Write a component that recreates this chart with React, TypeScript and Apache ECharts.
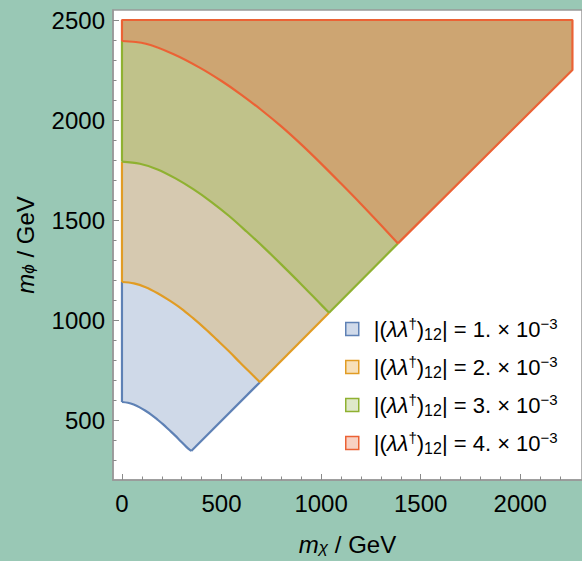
import React, { useEffect, useRef } from "react";
import * as echarts from "echarts";

// Tick values
const xMajorTicks = [0, 500, 1000, 1500, 2000];
const xMinorTicks = [100, 200, 300, 400, 600, 700, 800, 900, 1100, 1200, 1300, 1400, 1600, 1700, 1800, 1900, 2100, 2200];
const yMajorTicks = [500, 1000, 1500, 2000, 2500];
const yMinorTicks = [300, 400, 600, 700, 800, 900, 1100, 1200, 1300, 1400, 1600, 1700, 1800, 1900, 2100, 2200, 2300, 2400];

// Boundary curves [m_chi, m_phi] (GeV)
const curve1 = [[0, 590], [30, 586], [59, 577], [89, 563], [118, 546], [148, 526], [177, 503], [207, 478], [236, 451], [266, 423], [295, 394], [322, 367], [348, 345]];
const curve2 = [[0, 1190], [60, 1183], [119, 1164], [179, 1134], [238, 1098], [298, 1057], [357, 1009], [417, 957], [476, 902], [536, 845], [595, 785], [655, 726], [693, 689]];
const curve3 = [[0, 1792], [90, 1781], [179, 1753], [269, 1708], [358, 1654], [448, 1591], [538, 1520], [627, 1441], [717, 1358], [806, 1272], [896, 1183], [986, 1091], [1040, 1036]];
const curve4 = [[0, 2395], [120, 2381], [257, 2330], [390, 2262], [500, 2195], [600, 2126], [700, 2050], [800, 1968], [900, 1878], [1000, 1782], [1100, 1682], [1200, 1580], [1300, 1475], [1386, 1383]];
const topRight = [[0, 2500], [2262, 2500], [2262, 2250]];

const seriesNames = ["1", "2", "3", "4"];

const fillColors = ["#cfd9e8", "#d6c9b0", "#c0c28a", "#cda572"];
const lineColors = ["#5e81b5", "#e19c24", "#8fb131", "#eb6235"];
const swatchColors = ["#d0daea", "#f7e0ba", "#dfe8c9", "#f8d1c3"];

const rev = (a: number[][]) => a.slice().reverse();
const last = (a: number[][]) => a[a.length - 1];

const curves = [curve1, curve2, curve3, curve4];

const regions = [
  [...curve2, ...rev(curve1)],
  [...curve3, ...rev(curve2)],
  [...curve4, ...rev(curve3)],
  [...topRight, ...rev(curve4)],
];

// straight boundary pieces (left edge + diagonal), in each region's colour
const straights = [
  [[[0, 1190], curve1[0]], [last(curve1), last(curve2)]],
  [[[0, 1792], curve2[0]], [last(curve2), last(curve3)]],
  [[[0, 2395], curve3[0]], [last(curve3), last(curve4)]],
  [[last(curve4), topRight[2], topRight[1], topRight[0], curve4[0]]],
];

const FONT = "'Liberation Sans', Arial, Helvetica, sans-serif";

export default function App() {
  const ref = useRef<HTMLDivElement>(null);
  useEffect(() => {
    document.body.style.margin = "0";
    const chart = echarts.init(ref.current!, null, { renderer: "svg" });
    const lineSt = { show: true, onZero: false, lineStyle: { color: "#999999", width: 1.5 } };
    const xCommon = {
      type: "value",
      min: -45,
      max: 2310,
      splitLine: { show: false },
    };
    const yCommon = {
      type: "value",
      min: 200,
      max: 2550,
      splitLine: { show: false },
    };
    const tickStyle = { color: "#8a8a8a", width: 1 };
    const nameStyle = {
      fontFamily: FONT,
      fontSize: 24,
      color: "#000",
      lineHeight: 24,
      rich: {
        it: { fontFamily: FONT, fontSize: 24, fontStyle: "italic", color: "#000", lineHeight: 24 },
        sub: { fontFamily: FONT, fontSize: 17, fontStyle: "italic", color: "#000", lineHeight: 14, verticalAlign: "bottom" },
      },
    };
    const fmt = (v: number) => String(v);
    const lineSeries: any[] = [];
    curves.forEach((c, i) => {
      straights[i].forEach((seg, j) => {
        lineSeries.push({
          type: "line",
          name: `s${i}_${j}`,
          xAxisIndex: 0,
          yAxisIndex: 0,
          data: seg,
          showSymbol: false,
          symbol: "none",
          lineStyle: { color: lineColors[i], width: 2.2 },
          z: 3 + i,
          silent: true,
        });
      });
      lineSeries.push({
        type: "line",
        name: `c${i}`,
        xAxisIndex: 0,
        yAxisIndex: 0,
        data: c,
        smooth: 0.35,
        showSymbol: false,
        symbol: "none",
        lineStyle: { color: lineColors[i], width: 2.2 },
        z: 3 + i,
        silent: true,
      });
    });
    const option: any = {
      animation: false,
      backgroundColor: "#99c8b5",
      grid: {
        left: 113,
        top: 10,
        right: -2,
        bottom: 81,
        show: true,
        backgroundColor: "#ffffff",
        borderColor: "#999999",
        borderWidth: 1.5,
      },
      xAxis: [
        {
          ...xCommon,
          position: "bottom",
          axisLine: lineSt,
          name: "{it|m}{sub|χ} / GeV",
          nameLocation: "middle",
          nameGap: 52,
          nameTextStyle: nameStyle,
          axisTick: { show: true, inside: true, length: 6, customValues: xMajorTicks, lineStyle: tickStyle },
          axisLabel: { show: true, customValues: xMajorTicks, formatter: fmt, margin: 11, fontFamily: FONT, fontSize: 24, color: "#000" },
        },
        {
          ...xCommon,
          position: "bottom",
          axisLine: { show: false, onZero: false },
          axisTick: { show: true, inside: true, length: 3.5, customValues: xMinorTicks, lineStyle: tickStyle },
          axisLabel: { show: false },
        },
      ],
      yAxis: [
        {
          ...yCommon,
          position: "left",
          axisLine: lineSt,
          name: "{it|m}{sub|ϕ} / GeV",
          nameLocation: "middle",
          nameGap: 76,
          nameTextStyle: nameStyle,
          axisTick: { show: true, inside: true, length: 6, customValues: yMajorTicks, lineStyle: tickStyle },
          axisLabel: { show: true, customValues: yMajorTicks, formatter: fmt, margin: 8, fontFamily: FONT, fontSize: 24, color: "#000" },
        },
        {
          ...yCommon,
          position: "left",
          axisLine: { show: false, onZero: false },
          axisTick: { show: true, inside: true, length: 3.5, customValues: yMinorTicks, lineStyle: tickStyle },
          axisLabel: { show: false },
        },
      ],
      legend: {
        orient: "vertical",
        left: 340,
        top: 311,
        itemWidth: 13,
        itemHeight: 13,
        itemGap: 12,
        icon: "rect",
        selectedMode: false,
        data: seriesNames.map((n, i) => ({
          name: n,
          itemStyle: { color: swatchColors[i], borderColor: lineColors[i], borderWidth: 1.5 },
        })),
        formatter: (name: string) =>
          `|({it|λλ}{sup|†}){sub|12}| = ${name}. × 10{sup|−3}`,
        textStyle: {
          fontFamily: FONT,
          fontSize: 22,
          color: "#000",
          lineHeight: 26,
          padding: [0, 0, 0, 10],
          rich: {
            it: { fontFamily: FONT, fontSize: 22, fontStyle: "italic", color: "#000", lineHeight: 26 },
            sup: { fontFamily: FONT, fontSize: 15, color: "#000", lineHeight: 14, verticalAlign: "top" },
            sub: { fontFamily: FONT, fontSize: 16, color: "#000", lineHeight: 14, verticalAlign: "bottom" },
          },
        },
      },
      series: [
        ...regions.map((poly, i) => ({
          type: "custom",
          name: seriesNames[i],
          xAxisIndex: 0,
          yAxisIndex: 0,
          data: poly,
          encode: { x: 0, y: 1 },
          itemStyle: { color: swatchColors[i], borderColor: lineColors[i] },
          clip: true,
          z: 1,
          renderItem: (params: any, api: any) => {
            if (params.dataIndex !== 0) return null;
            const pts = poly.map((p) => api.coord(p));
            return {
              type: "polygon",
              shape: { points: pts },
              style: { fill: fillColors[i], stroke: "none" },
            };
          },
        })),
        ...lineSeries,
      ],
    };
    chart.setOption(option);
    return () => chart.dispose();
  }, []);
  return <div ref={ref} style={{ width: 582, height: 561 }} />;
}
